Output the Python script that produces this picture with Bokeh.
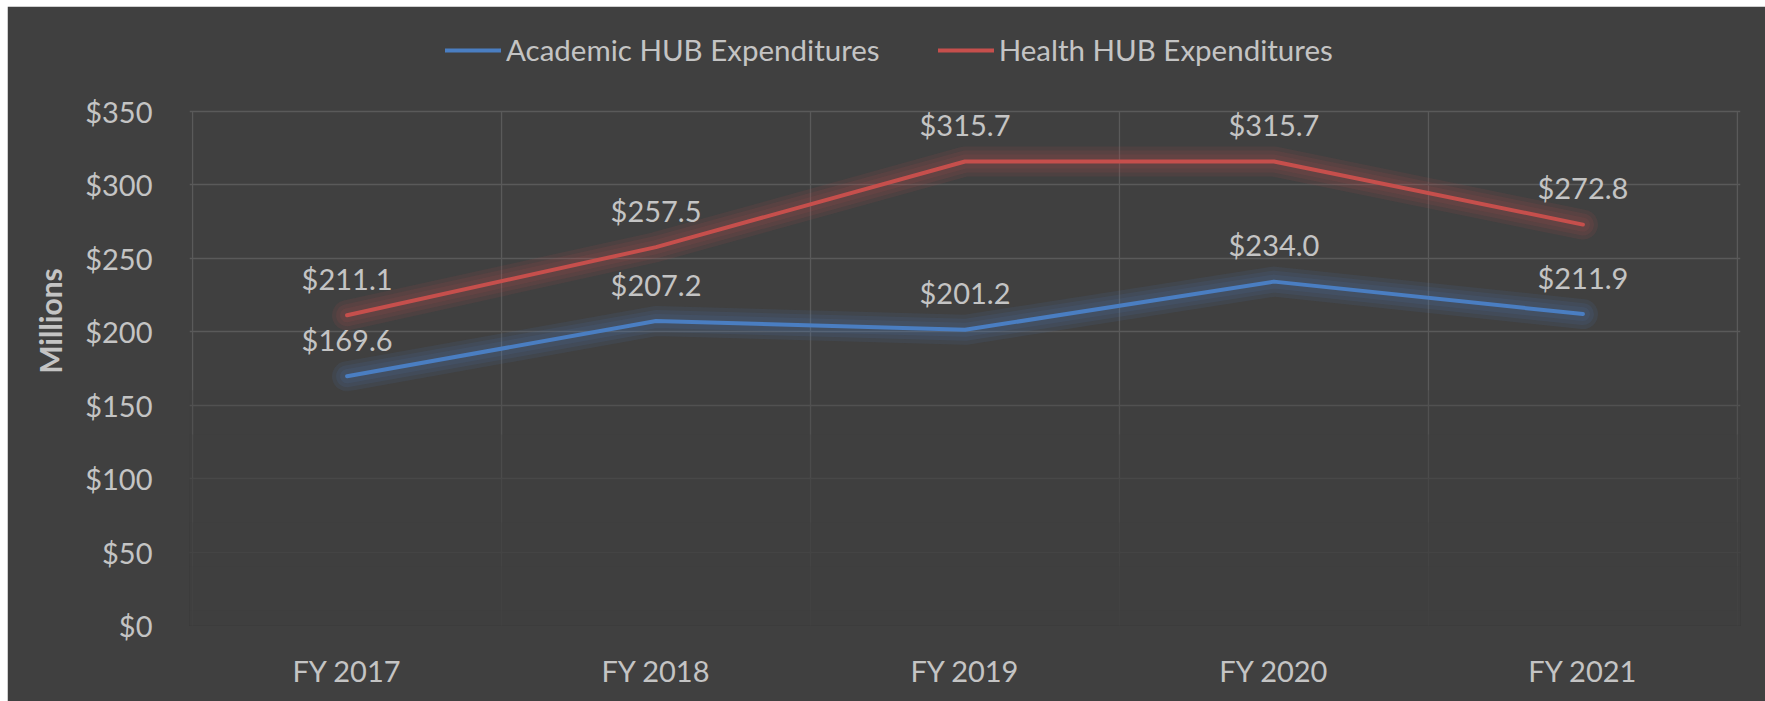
from bokeh.plotting import figure
from bokeh.models import (Range1d, FixedTicker, CustomJSTickFormatter, PrintfTickFormatter,
                          Legend, LegendItem, BoxAnnotation, ColumnDataSource)
from bokeh.core.properties import value
from bokeh.embed import file_html
from bokeh.resources import INLINE

# ---- data ----
categories = ["FY 2017", "FY 2018", "FY 2019", "FY 2020", "FY 2021"]
academic = [169.6, 207.2, 201.2, 234.0, 211.9]
health = [211.1, 257.5, 315.7, 315.7, 272.8]
series_names = ["Academic HUB Expenditures", "Health HUB Expenditures"]
y_ticks = [0, 50, 100, 150, 200, 250, 300, 350]

# ---- style ----
BG = "#404040"
TXT = "#c4c4c4"
GRID = "#5a5a5a"
BLUE = "#4a7ec2"
RED = "#c64f4c"
FONT = "Lato"

n = len(categories)
xs = [i + 0.5 for i in range(n)]
y_max = max(y_ticks)

# frame extends above $350 to host the legend
p = figure(width=1758, height=695, output_backend="svg", toolbar_location=None,
           x_range=Range1d(-0.01, n + 0.01), y_range=Range1d(0, 414.4),
           min_border_left=182, min_border_right=25, min_border_top=10, min_border_bottom=76)
p.margin = (6, 0, 0, 7)
p.background_fill_color = BG
p.border_fill_color = BG
p.outline_line_color = BG
p.outline_line_alpha = 1
p.outline_line_width = 2

# axes
p.xaxis.ticker = FixedTicker(ticks=xs)
p.xaxis.formatter = CustomJSTickFormatter(args=dict(cats=categories),
                                          code="return cats[Math.floor(tick)];")
p.yaxis.ticker = FixedTicker(ticks=y_ticks)
p.yaxis.formatter = PrintfTickFormatter(format="$%d")
p.yaxis.bounds = (0, 409)
for ax in (p.xaxis[0], p.yaxis[0]):
    ax.axis_line_color = None
    ax.major_tick_line_color = None
    ax.minor_tick_line_color = None
    ax.major_label_text_font = FONT
    ax.major_label_text_font_size = "29px"
    ax.major_label_text_color = TXT
p.xaxis.major_label_standoff = 21
p.yaxis.major_label_standoff = 31
p.yaxis.axis_label = "Millions"
p.yaxis.axis_label_text_font = FONT
p.yaxis.axis_label_text_font_style = "bold"
p.yaxis.axis_label_text_font_size = "30px"
p.yaxis.axis_label_text_color = TXT
p.yaxis.axis_label_standoff = 14

# grids: horizontal via Grid, vertical category separators only within 0..$350
p.xgrid.visible = False
p.ygrid.ticker = FixedTicker(ticks=[t for t in y_ticks if t > 0])
p.ygrid.grid_line_color = GRID
p.ygrid.grid_line_width = 1.3
sep = p.segment(x0=list(range(n + 1)), x1=list(range(n + 1)), y0=[0] * (n + 1),
                y1=[y_max] * (n + 1), line_color=GRID, line_width=1.3)
sep.level = "underlay"

# fade of the lower gridlines
for top in [160, 130, 100, 70, 40, 10]:
    p.add_layout(BoxAnnotation(top=top, bottom=-5, left=-1, right=n + 1,
                               fill_color=BG, fill_alpha=0.3, line_alpha=0, level="glyph"))

src = ColumnDataSource(dict(x=xs, academic=academic, health=health,
                            academic_lbl=["$%.1f" % v for v in academic],
                            health_lbl=["$%.1f" % v for v in health]))

main = {}
for col, color in (("academic", BLUE), ("health", RED)):
    for w in (30, 22, 14):
        p.line("x", col, source=src, line_color=color, line_width=w, line_alpha=0.1,
               line_join="round", line_cap="round")
    main[col] = p.line("x", col, source=src, line_color=color, line_width=4,
                       line_join="round", line_cap="round")
    p.text("x", col, text=col + "_lbl", source=src, text_align="center",
           text_baseline="middle", y_offset=-37, text_font=value(FONT),
           text_font_size="29px", text_color=TXT)

legend = Legend(items=[LegendItem(label=series_names[0], renderers=[main["academic"]]),
                       LegendItem(label=series_names[1], renderers=[main["health"]])],
                location=(256, 558), orientation="horizontal",
                background_fill_alpha=0, border_line_alpha=0, padding=0, margin=0,
                glyph_width=56, glyph_height=30, label_standoff=5, spacing=58,
                label_text_font=FONT, label_text_font_size="29.5px", label_text_color=TXT)
p.add_layout(legend)

html = file_html(p, INLINE)
html = html.replace("<body>", '<body style="background:#dde6ed">', 1)
open("out.html", "w").write(html)
